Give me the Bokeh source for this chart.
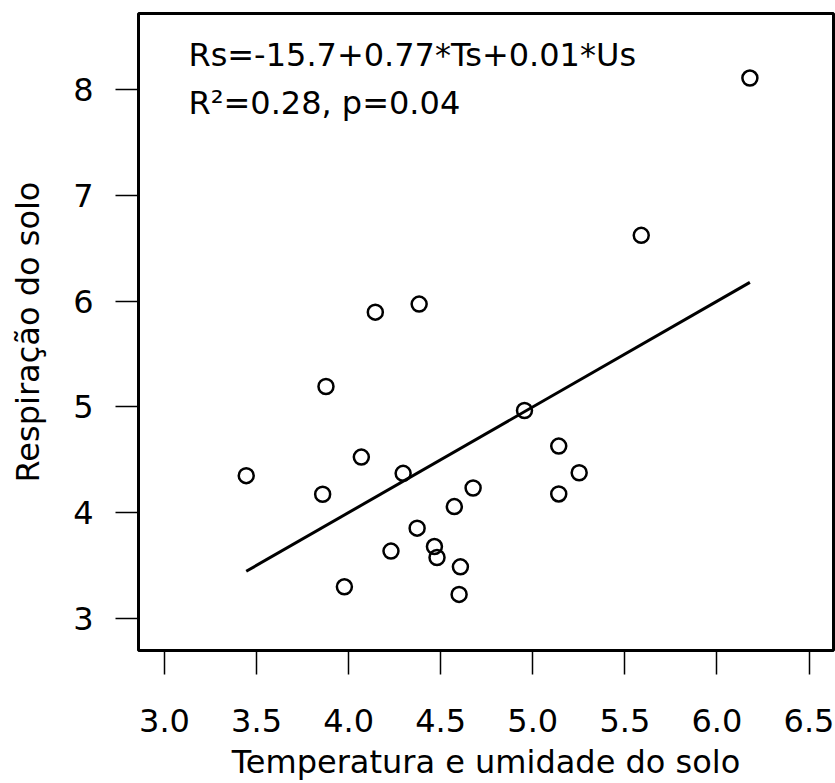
from bokeh.plotting import figure
from bokeh.models import Range1d, FixedTicker, PrintfTickFormatter, Label
from bokeh.embed import file_html
from bokeh.resources import INLINE

# Data
ts_us = [3.877, 4.069, 3.444, 4.296, 3.859, 4.676, 4.574, 4.372, 4.230, 4.466, 4.480,
         4.607, 3.977, 4.600, 4.955, 5.141, 5.252, 5.141, 6.179, 5.589, 4.145, 4.383]
rs = [5.193, 4.525, 4.349, 4.371, 4.173, 4.232, 4.056, 3.852, 3.635, 3.678, 3.574,
      3.486, 3.297, 3.225, 4.966, 4.629, 4.377, 4.176, 8.113, 6.624, 5.897, 5.973]
x_ticks = [3.0, 3.5, 4.0, 4.5, 5.0, 5.5, 6.0, 6.5]
y_ticks = [3, 4, 5, 6, 7, 8]
eq_text = "Rs=-15.7+0.77*Ts+0.01*Us"
stat_text = "R\u00b2=0.28, p=0.04"
x_title = "Temperatura e umidade do solo"
y_title = "Respira\u00e7\u00e3o do solo"

# 1:1 line of fitted values across the observed range
line_x = [min(ts_us), max(ts_us)]
line_y = list(line_x)

FONT = "DejaVu Sans"
FSIZE = "32px"

p = figure(width=835, height=783, output_backend="svg", toolbar_location=None,
           x_range=Range1d(2.859, 6.633), y_range=Range1d(2.694, 8.724),
           min_border_left=138, min_border_right=2, min_border_top=13, min_border_bottom=131)

p.grid.visible = False
p.background_fill_color = "white"
p.border_fill_color = "white"
p.outline_line_color = "black"
p.outline_line_width = 3

for ax in (p.xaxis[0], p.yaxis[0]):
    ax.axis_line_color = None
    ax.major_tick_line_color = "black"
    ax.major_tick_line_width = 1.5
    ax.major_tick_in = 0
    ax.minor_tick_line_color = None
    ax.major_label_text_font = FONT
    ax.major_label_text_font_size = FSIZE
    ax.major_label_text_color = "black"
    ax.axis_label_text_font = FONT
    ax.axis_label_text_font_size = FSIZE
    ax.axis_label_text_font_style = "normal"
    ax.axis_label_text_color = "black"

p.xaxis.ticker = FixedTicker(ticks=x_ticks)
p.xaxis.formatter = PrintfTickFormatter(format="%.1f")
p.xaxis.major_tick_out = 24
p.xaxis.major_label_standoff = 34
p.xaxis.axis_label = x_title
p.xaxis.axis_label_standoff = 8

p.yaxis.ticker = FixedTicker(ticks=y_ticks)
p.yaxis.formatter = PrintfTickFormatter(format="%d")
p.yaxis.major_tick_out = 23
p.yaxis.major_label_standoff = 22
p.yaxis.major_label_orientation = "horizontal"
p.yaxis.axis_label = y_title
p.yaxis.axis_label_standoff = 23

p.line(line_x, line_y, line_color="black", line_width=3)
p.scatter(ts_us, rs, marker="circle", size=15, fill_color=None,
          line_color="black", line_width=2.5)

p.add_layout(Label(x=3.13, y=8.334, text=eq_text, text_font=FONT,
                   text_font_size=FSIZE, text_color="black", text_baseline="alphabetic"))
p.add_layout(Label(x=3.13, y=7.874, text=stat_text, text_font=FONT,
                   text_font_size=FSIZE, text_color="black", text_baseline="alphabetic"))

open("out.html", "w").write(file_html(p, INLINE))
